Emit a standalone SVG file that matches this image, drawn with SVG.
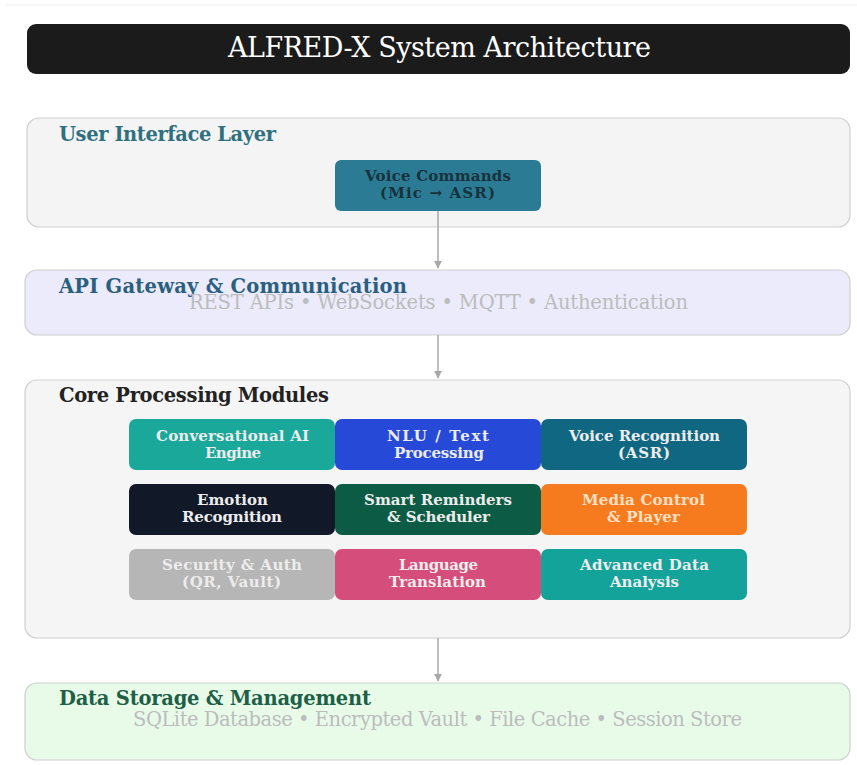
<svg xmlns="http://www.w3.org/2000/svg" width="857" height="765" viewBox="0 0 857 765">
<defs>
<style>
.layer{stroke:#cfcfcf;stroke-width:1.2}
.lt{font-family:"DejaVu Serif","Liberation Serif",serif;font-weight:bold;font-size:19.5px}
.sub{font-family:"DejaVu Serif","Liberation Serif",serif;font-size:19.5px;fill:#bcbcbc;text-anchor:middle}
.mt{font-family:"DejaVu Serif","Liberation Serif",serif;font-weight:bold;font-size:15px;text-anchor:middle;fill:#ececec}
.conn{stroke:#a8a8a8;stroke-width:1.5;fill:none}
</style>
<marker id="ah" viewBox="0 0 10 10" refX="9" refY="5" markerWidth="8" markerHeight="8" markerUnits="userSpaceOnUse" orient="auto">
<path d="M0,0 L10,5 L0,10 z" fill="#a8a8a8"/>
</marker>
</defs>
<rect width="857" height="765" fill="#ffffff"/>
<line x1="6" y1="5" x2="857" y2="5" stroke="#eeeeee" stroke-width="1"/>
<g id="title">
<rect x="27" y="24" width="823" height="50" rx="9" fill="#1b1b1b"/>
<text x="439.5" y="57" text-anchor="middle" font-family="'DejaVu Serif','Liberation Serif',serif" font-size="27" fill="#ffffff" textLength="423">ALFRED-X System Architecture</text>
</g>
<g id="ui-layer">
<rect class="layer" x="27" y="118" width="823" height="109" rx="12" fill="#f4f4f4"/>
<text class="lt" x="59" y="141" fill="#2f7080" textLength="217">User Interface Layer</text>
</g>
<g id="voice-commands">
<rect x="335" y="160" width="206" height="51" rx="6" fill="#2b7b95"/>
<text class="mt" x="438" y="181" style="fill:#18323c" textLength="146">Voice Commands</text>
<text class="mt" x="437.5" y="198" style="fill:#18323c" textLength="115">(Mic → ASR)</text>
</g>
<g id="api-layer">
<rect class="layer" x="25" y="270" width="825" height="65" rx="12" fill="#ebebfb"/>
<text class="lt" x="59" y="293" fill="#2a5f80" textLength="348">API Gateway &amp; Communication</text>
<text class="sub" x="438.5" y="309" textLength="499">REST APIs • WebSockets • MQTT • Authentication</text>
</g>
<g id="core-layer">
<rect class="layer" x="25" y="380" width="825" height="258" rx="12" fill="#f5f5f5"/>
<text class="lt" x="59" y="402" fill="#222222" textLength="270">Core Processing Modules</text>
</g>
<g id="conversational-ai">
<rect x="129" y="419" width="206" height="51" rx="7" fill="#1aa89b"/>
<text class="mt" x="232.5" y="441" textLength="153">Conversational AI</text>
<text class="mt" x="233" y="458" textLength="56">Engine</text>
</g>
<g id="nlu">
<rect x="335" y="419" width="206" height="51" rx="7" fill="#2649d8"/>
<text class="mt" x="438" y="441" textLength="102">NLU / Text</text>
<text class="mt" x="439" y="458" textLength="90">Processing</text>
</g>
<g id="voice-recognition">
<rect x="541" y="419" width="206" height="51" rx="7" fill="#0f6782"/>
<text class="mt" x="644.5" y="441" textLength="151">Voice Recognition</text>
<text class="mt" x="644" y="458" textLength="52">(ASR)</text>
</g>
<g id="emotion">
<rect x="129" y="484" width="206" height="51" rx="7" fill="#111827"/>
<text class="mt" x="232.5" y="505" textLength="71">Emotion</text>
<text class="mt" x="232" y="522" textLength="100">Recognition</text>
</g>
<g id="smart-reminders">
<rect x="335" y="484" width="206" height="51" rx="7" fill="#0c5c45"/>
<text class="mt" x="438" y="505" textLength="148">Smart Reminders</text>
<text class="mt" x="438.5" y="522" textLength="103">&amp; Scheduler</text>
</g>
<g id="media-control">
<rect x="541" y="484" width="206" height="51" rx="7" fill="#f67b1e"/>
<text class="mt" x="643.5" y="505" style="fill:#fbe0c4" textLength="123">Media Control</text>
<text class="mt" x="643.5" y="522" style="fill:#fbe0c4" textLength="73">&amp; Player</text>
</g>
<g id="security">
<rect x="129" y="549" width="206" height="51" rx="7" fill="#b6b6b6"/>
<text class="mt" x="232" y="570" textLength="140">Security &amp; Auth</text>
<text class="mt" x="231.5" y="587" textLength="99">(QR, Vault)</text>
</g>
<g id="language">
<rect x="335" y="549" width="206" height="51" rx="7" fill="#d54d7b"/>
<text class="mt" x="438.5" y="570" textLength="79">Language</text>
<text class="mt" x="437.5" y="587" textLength="97">Translation</text>
</g>
<g id="data-analysis">
<rect x="541" y="549" width="206" height="51" rx="7" fill="#13a39b"/>
<text class="mt" x="644.5" y="570" textLength="129">Advanced Data</text>
<text class="mt" x="644.5" y="587" textLength="69">Analysis</text>
</g>
<g id="data-layer">
<rect class="layer" x="25" y="683" width="825" height="77" rx="12" fill="#e8fbe8"/>
<text class="lt" x="59" y="705" fill="#1f5f47" textLength="312">Data Storage &amp; Management</text>
<text class="sub" x="437.5" y="726" textLength="609">SQLite Database • Encrypted Vault • File Cache • Session Store</text>
</g>
<g id="connectors">
<line class="conn" x1="438" y1="211" x2="438" y2="268" marker-end="url(#ah)"/>
<line class="conn" x1="438" y1="335" x2="438" y2="378" marker-end="url(#ah)"/>
<line class="conn" x1="438" y1="638" x2="438" y2="681" marker-end="url(#ah)"/>
</g>
</svg>
